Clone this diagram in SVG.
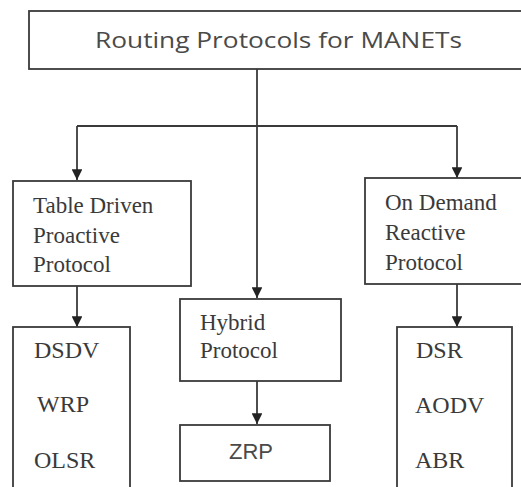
<svg xmlns="http://www.w3.org/2000/svg" width="521" height="487" viewBox="0 0 521 487">
<style>
.box{fill:#fff;stroke:#3a3a3a;stroke-width:1.8}
.ln{fill:none;stroke:#3a3a3a;stroke-width:1.8}
.serif{font-family:"Liberation Serif","Times New Roman",serif;font-size:23px;fill:#3a3a3a}
.item{font-size:24px}
.sans{font-family:"Open Sans","Liberation Sans",sans-serif;fill:#4a4a4a}
.arial{font-family:"Liberation Sans",Arial,sans-serif;fill:#4a4a4a}
</style>
<defs>
<marker id="arr" viewBox="0 0 10 10" refX="10" refY="5" markerWidth="6" markerHeight="6" markerUnits="strokeWidth" orient="auto">
<path d="M0,0 L10,5 L0,10 Z" fill="#222"/>
</marker>
</defs>
<rect width="521" height="487" fill="#fff"/>
<g id="connectors">
<line class="ln" x1="257" y1="69" x2="257" y2="298" marker-end="url(#arr)"/>
<line class="ln" x1="77" y1="126" x2="457" y2="126"/>
<line class="ln" x1="77" y1="126" x2="77" y2="180" marker-end="url(#arr)"/>
<line class="ln" x1="457" y1="126" x2="457" y2="178" marker-end="url(#arr)"/>
<line class="ln" x1="77" y1="286" x2="77" y2="327" marker-end="url(#arr)"/>
<line class="ln" x1="457" y1="284" x2="457" y2="327" marker-end="url(#arr)"/>
<line class="ln" x1="257" y1="381" x2="257" y2="424" marker-end="url(#arr)"/>
</g>
<g id="root">
<rect class="box" x="29" y="11" width="500" height="58"/>
<text class="sans" x="278.5" y="48" font-size="22" text-anchor="middle" textLength="367" lengthAdjust="spacingAndGlyphs">Routing Protocols for MANETs</text>
</g>
<g id="table-driven">
<rect class="box" x="13" y="181" width="178" height="105"/>
<text class="serif" x="33" y="213">Table Driven</text>
<text class="serif" x="33" y="243">Proactive</text>
<text class="serif" x="33" y="272">Protocol</text>
</g>
<g id="on-demand">
<rect class="box" x="365" y="178" width="170" height="106"/>
<text class="serif" x="385" y="210">On Demand</text>
<text class="serif" x="385" y="240">Reactive</text>
<text class="serif" x="385" y="270">Protocol</text>
</g>
<g id="hybrid">
<rect class="box" x="180" y="299" width="161" height="82"/>
<text class="serif" x="200" y="330">Hybrid</text>
<text class="serif" x="200" y="358">Protocol</text>
</g>
<g id="proactive-list">
<rect class="box" x="13" y="327" width="117" height="170"/>
<text class="serif item" x="34" y="358">DSDV</text>
<text class="serif item" x="37" y="412">WRP</text>
<text class="serif item" x="34" y="468">OLSR</text>
</g>
<g id="hybrid-list">
<rect class="box" x="180" y="425" width="150" height="56"/>
<text class="arial" x="251" y="459" font-size="22" text-anchor="middle">ZRP</text>
</g>
<g id="reactive-list">
<rect class="box" x="397" y="327" width="115" height="170"/>
<text class="serif item" x="416" y="358">DSR</text>
<text class="serif item" x="415" y="413">AODV</text>
<text class="serif item" x="415" y="468">ABR</text>
</g>
</svg>
